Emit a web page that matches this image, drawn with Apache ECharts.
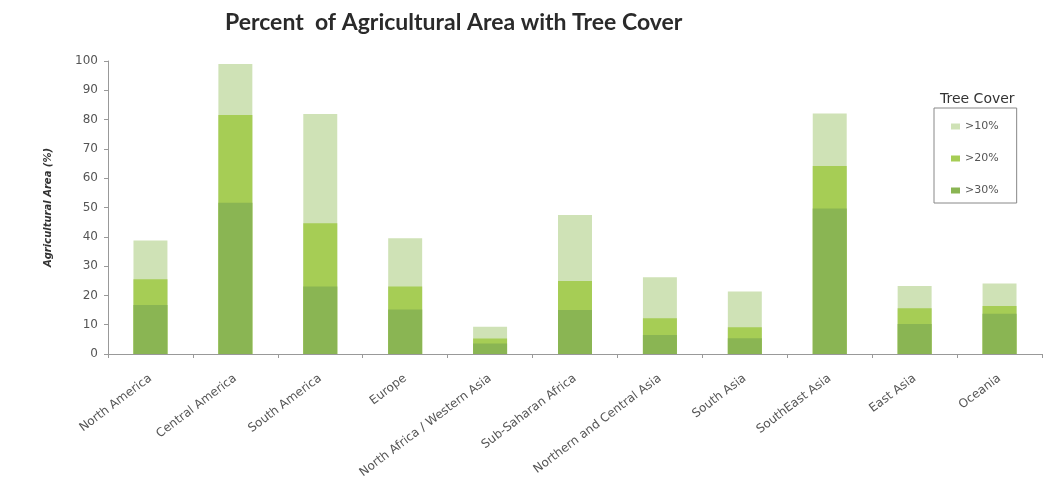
<!DOCTYPE html>
<html>
<head>
<meta charset="utf-8">
<script src="https://cdn.jsdelivr.net/npm/echarts@6/dist/echarts.min.js"></script>
<style>html,body{margin:0;padding:0;background:#fff}#c{width:1044px;height:492px}</style>
</head>
<body>
<div id="c"></div>
<script>
const categories = ['North America','Central America','South America','Europe','North Africa / Western Asia','Sub-Saharan Africa','Northern and Central Asia','South Asia','SouthEast Asia','East Asia','Oceania'];
const cover10 = [38.7, 99.0, 81.9, 39.5, 9.3, 47.4, 26.2, 21.3, 82.1, 23.2, 24.1];
const cover20 = [25.5, 81.6, 44.6, 23.0, 5.3, 24.9, 12.2, 9.1, 64.2, 15.6, 16.4];
const cover30 = [16.7, 51.6, 23.0, 15.2, 3.6, 15.0, 6.5, 5.4, 49.7, 10.2, 13.7];
const yTicks = [0,10,20,30,40,50,60,70,80,90,100];

const chart = echarts.init(document.getElementById('c'), null, {renderer:'canvas'});
const font = 'Lato, "Open Sans", sans-serif';
const font2 = '"DejaVu Sans", sans-serif';
chart.setOption({
  backgroundColor:'#fff',
  animation:false,
  title:[
    {text:'Percent  of Agricultural Area with Tree Cover', left:220, top:6,
     textStyle:{fontFamily:font, fontWeight:'bold', fontSize:23, color:'#2a2a2a'}},
    {text:'Tree Cover', left:935, top:87,
     textStyle:{fontFamily:font2, fontWeight:'normal', fontSize:14, color:'#333'}}
  ],
  legend:{
    data:['>10%','>20%','>30%'], orient:'vertical', left:934, top:108,
    padding:[13,18,7,17], itemGap:21, itemWidth:9, itemHeight:6,
    borderColor:'#888', borderWidth:1,
    textStyle:{fontFamily:font2, fontSize:11, color:'#555'},
    icon:'rect'
  },
  grid:{left:108, right:2, top:61, bottom:138, containLabel:false},
  xAxis:{
    type:'category', data:categories,
    axisLine:{lineStyle:{color:'#999'}},
    axisTick:{show:true, alignWithLabel:false, length:4, lineStyle:{color:'#999'}},
    axisLabel:{rotate:37, interval:0, margin:23, fontFamily:font2, fontSize:12, color:'#555'}
  },
  yAxis:{
    type:'value', min:0, max:100, interval:10,
    name:'Agricultural Area (%)', nameLocation:'middle', nameGap:55, nameRotate:90,
    nameTextStyle:{fontFamily:font2, fontSize:10, fontWeight:'bold', fontStyle:'italic', color:'#333'},
    splitLine:{show:false},
    axisLine:{show:true, lineStyle:{color:'#999'}},
    axisTick:{show:true, inside:false, length:4, lineStyle:{color:'#999'}},
    axisLabel:{fontFamily:font2, fontSize:12, color:'#555', margin:10,
      formatter:function(v){return yTicks.indexOf(v)>=0 ? String(v) : '';}}
  },
  series:[
    {name:'>10%', type:'bar', data:cover10, barWidth:'40%', barGap:'-100%', itemStyle:{color:'#cfe2b6'}, z:1},
    {name:'>20%', type:'bar', data:cover20, barWidth:'40%', barGap:'-100%', itemStyle:{color:'#a6cd55'}, z:2},
    {name:'>30%', type:'bar', data:cover30, barWidth:'40%', barGap:'-100%', itemStyle:{color:'#8ab553'}, z:3}
  ]
});
</script>
</body>
</html>
